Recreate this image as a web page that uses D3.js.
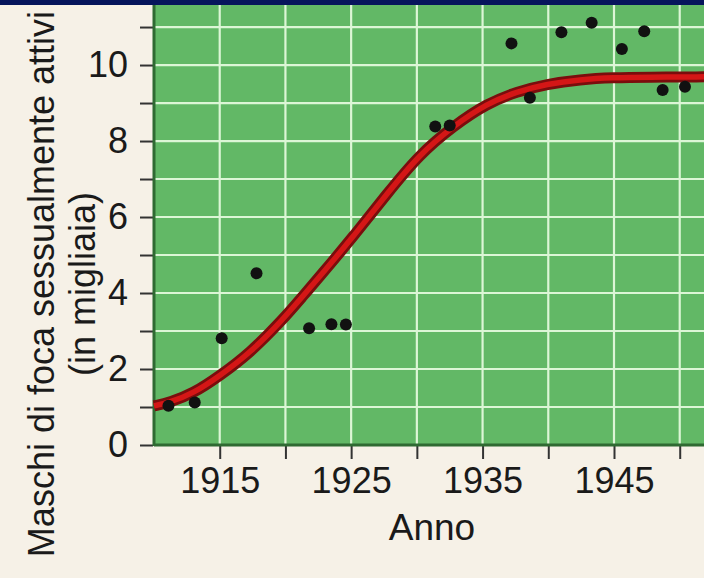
<!DOCTYPE html>
<html>
<head>
<meta charset="utf-8">
<script src="https://cdn.jsdelivr.net/npm/d3@7"></script>
<style>
  body { margin: 0; background: #f6f1e7; }
  svg { display: block; }
  text { font-family: "Liberation Sans", Arial, Helvetica, sans-serif; fill: #1a1a1a; }
</style>
</head>
<body>
<div id="chart"></div>
<script>
// observed points (year, thousands of breeding males)
const pointYears = [1911.1, 1913.1, 1915.15, 1917.8, 1921.8, 1923.5, 1924.6, 1931.4, 1932.5,
                    1937.2, 1938.6, 1941.0, 1943.3, 1945.6, 1947.3, 1948.7, 1950.4];
const pointValues = [1.03, 1.12, 2.81, 4.52, 3.07, 3.18, 3.17, 8.38, 8.41,
                     10.57, 9.14, 10.86, 11.11, 10.42, 10.89, 9.34, 9.43];

// fitted curve
const curveYears = [1910, 1911.2, 1913, 1915, 1917.3, 1919.8, 1921.4, 1922.6, 1925.2, 1927.7,
                    1930.2, 1932.8, 1935.3, 1937.6, 1939.9, 1942.4, 1945, 1947.5, 1952];
const curveValues = [1.03, 1.12, 1.36, 1.82, 2.42, 3.3, 3.95, 4.43, 5.5, 6.6,
                     7.65, 8.4, 8.98, 9.3, 9.5, 9.62, 9.67, 9.68, 9.69];

const xTicks = [1915, 1920, 1925, 1930, 1935, 1940, 1945, 1950];
const xLabels = [1915, 1925, 1935, 1945];
const yTicks = d3.range(0, 12);
const yLabels = [0, 2, 4, 6, 8, 10];

const width = 704, height = 578;
const plot = { left: 154, right: 706, top: 5, bottom: 445 };

const svg = d3.select("#chart").append("svg")
  .attr("width", width)
  .attr("height", height);

svg.append("rect").attr("width", width).attr("height", height).attr("fill", "#f6f1e7");

const x = d3.scaleLinear().domain([1910, 1952]).range([plot.left, plot.right]);
const y = d3.scaleLinear().domain([0, 11.58]).range([plot.bottom, plot.top]);

// green plot panel
svg.append("rect")
  .attr("x", plot.left).attr("y", plot.top)
  .attr("width", plot.right - plot.left).attr("height", plot.bottom - plot.top)
  .attr("fill", "#62b866");

// grid
svg.append("g").selectAll("line")
  .data(yTicks.filter(d => d > 0))
  .join("line")
  .attr("x1", plot.left).attr("x2", plot.right)
  .attr("y1", d => y(d)).attr("y2", d => y(d))
  .attr("stroke", "#dcf6d6").attr("stroke-width", 2.2);

svg.append("g").selectAll("line")
  .data(xTicks)
  .join("line")
  .attr("x1", d => x(d)).attr("x2", d => x(d))
  .attr("y1", plot.top).attr("y2", plot.bottom)
  .attr("stroke", "#dcf6d6").attr("stroke-width", 2.2);

// axes
const xAxis = d3.axisBottom(x)
  .tickValues(xTicks)
  .tickSize(13)
  .tickPadding(8)
  .tickFormat(d => xLabels.includes(d) ? d : "");

const gx = svg.append("g")
  .attr("transform", `translate(0,${plot.bottom + 1})`)
  .call(xAxis);
gx.select(".domain").remove();
gx.selectAll(".tick line").attr("stroke", "#333").attr("stroke-width", 2);
gx.selectAll(".tick text").attr("font-size", 36).attr("fill", "#1a1a1a")
  .attr("font-family", "Liberation Sans, Arial, sans-serif");

const yAxis = d3.axisLeft(y)
  .tickValues(yTicks)
  .tickSize(13)
  .tickPadding(12)
  .tickFormat(d => yLabels.includes(d) ? d : "");

const gy = svg.append("g")
  .attr("transform", `translate(${plot.left - 1},0)`)
  .call(yAxis);
gy.select(".domain").remove();
gy.selectAll(".tick line").attr("stroke", "#333").attr("stroke-width", 2);
gy.selectAll(".tick text").attr("font-size", 36).attr("fill", "#1a1a1a")
  .attr("font-family", "Liberation Sans, Arial, sans-serif");

// dark green axis lines
svg.append("line")
  .attr("x1", plot.left).attr("x2", plot.left)
  .attr("y1", plot.top).attr("y2", plot.bottom + 1)
  .attr("stroke", "#2f6a32").attr("stroke-width", 3);
svg.append("line")
  .attr("x1", plot.left).attr("x2", plot.right)
  .attr("y1", plot.bottom).attr("y2", plot.bottom)
  .attr("stroke", "#2f6a32").attr("stroke-width", 3);

// fitted curve
const curveData = curveYears.map((d, i) => [d, curveValues[i]]);
const line = d3.line()
  .x(d => x(d[0]))
  .y(d => y(d[1]))
  .curve(d3.curveBasis);

svg.append("path")
  .datum(curveData)
  .attr("d", line)
  .attr("fill", "none")
  .attr("stroke", "#7a0d0d")
  .attr("stroke-width", 11);
svg.append("path")
  .datum(curveData)
  .attr("d", line)
  .attr("fill", "none")
  .attr("stroke", "#d41616")
  .attr("stroke-width", 5.5);

// dots
svg.append("g").selectAll("circle")
  .data(pointYears.map((d, i) => [d, pointValues[i]]))
  .join("circle")
  .attr("cx", d => x(d[0]))
  .attr("cy", d => y(d[1]))
  .attr("r", 6)
  .attr("fill", "#111");

// titles
svg.append("text")
  .attr("x", 432).attr("y", 540)
  .attr("text-anchor", "middle")
  .attr("font-size", 37)
  .text("Anno");

svg.append("text")
  .attr("transform", "translate(54,284) rotate(-90)")
  .attr("text-anchor", "middle")
  .attr("font-size", 36)
  .text("Maschi di foca sessualmente attivi");

svg.append("text")
  .attr("transform", "translate(95,284) rotate(-90)")
  .attr("text-anchor", "middle")
  .attr("font-size", 36)
  .text("(in migliaia)");

// navy frame band at top
svg.append("rect")
  .attr("x", 0).attr("y", 0)
  .attr("width", width).attr("height", 5)
  .attr("fill", "#06155c");
</script>
</body>
</html>
